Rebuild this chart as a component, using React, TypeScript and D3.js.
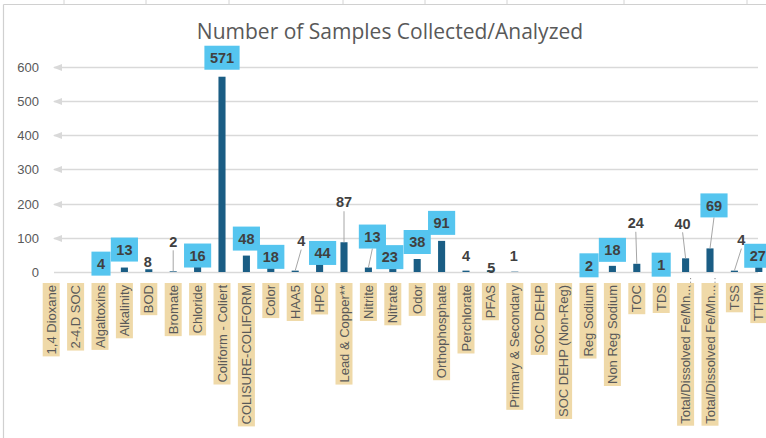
import React, { useEffect, useRef } from "react";
import * as d3 from "d3";

const title = "Number of Samples Collected/Analyzed";

const categories = [
  "1,4 Dioxane", "2-4,D SOC", "Algaltoxins", "Alkalinity", "BOD", "Bromate", "Chloride",
  "Coliform - Coliert", "COLISURE-COLIFORM", "Color", "HAA5", "HPC", "Lead & Copper**",
  "Nitrite", "Nitrate", "Odor", "Orthophosphate", "Perchlorate", "PFAS", "Primary & Secondary",
  "SOC DEHP", "SOC DEHP (Non-Reg)", "Reg Sodium", "Non Reg Sodium", "TOC", "TDS",
  "Total/Dissolved Fe/Mn...", "Total/Dissolved Fe/Mn...", "TSS", "TTHM",
];

const values: (number | null)[] = [
  null, null, 4, 13, 8, 2, 16, 571, 48, 18, 4, 44, 87, 13, 23, 38, 91, 4, 5, 1,
  null, null, 2, 18, 24, 1, 40, 69, 4, 27,
];

const yTicks = [0, 100, 200, 300, 400, 500, 600];

// label style: "box" = callout with fill, "plain" = text only
const labelStyle = [
  "", "", "box", "box", "plain", "plain", "box", "box", "box", "box", "plain", "box", "plain",
  "box", "box", "box", "box", "plain", "plain", "plain", "", "", "box", "box", "plain", "box",
  "plain", "box", "plain", "box",
];

// manual label placement offsets (dx, dy from bar top) and leader-line flags
const labelOffsets: [number, number][] = [
  [0, 0], [0, 0], [1, -7], [0, -18], [-1, -7], [0, -30], [0, -11], [0, -19], [0, -17], [0, -9],
  [6, -30], [3, -4], [0, -40], [4, -31], [-3, -7], [0, -17], [0, -18], [0, -15], [1, -3], [-1, -16],
  [0, 0], [0, 0], [1, -6], [0, -16], [-1, -41], [0, -7], [-3, -35], [4, -43], [7, -31], [-1, -7],
];
const leaders = [5, 10, 12, 13, 24, 26, 27, 28];

const W = 766;
const H = 438;

export default function App() {
  const ref = useRef<SVGSVGElement>(null);

  useEffect(() => {
    const svg = d3.select(ref.current);
    svg.selectAll("*").remove();

    const x = d3.scaleBand<string>()
      .domain(categories.map((c, i) => String(i)))
      .range([39, 771])
      .paddingInner(0.71)
      .paddingOuter(0.355);
    const y = d3.scaleLinear().domain([0, 600]).range([272, 66.8]);
    const cx = (i: number) => (x(String(i)) as number) + x.bandwidth() / 2;

    // frame / sheet background
    svg.append("rect").attr("x", 0).attr("y", 0).attr("width", W).attr("height", H).attr("fill", "#ffffff");
    [64, 146, 229, 343, 425, 507, 624, 747].forEach((sx) => {
      svg.append("line").attr("x1", sx).attr("x2", sx).attr("y1", 0).attr("y2", 4)
        .attr("stroke", "#d4d4d4").attr("stroke-width", 1);
    });
    svg.append("line").attr("x1", 3.5).attr("x2", W).attr("y1", 4.5).attr("y2", 4.5)
      .attr("stroke", "#d0d0d0").attr("stroke-width", 1.2);
    svg.append("line").attr("x1", 3.5).attr("x2", 3.5).attr("y1", 4.5).attr("y2", H)
      .attr("stroke", "#d0d0d0").attr("stroke-width", 1.2);

    // title
    svg.append("text").attr("x", 390).attr("y", 39).attr("text-anchor", "middle")
      .attr("font-family", "'Open Sans', sans-serif").attr("font-size", 21)
      .attr("fill", "#595959").text(title);

    // gridlines
    yTicks.forEach((t) => {
      const yy = Math.round(y(t)) + 0.5;
      svg.append("line").attr("x1", 54).attr("x2", 758).attr("y1", yy).attr("y2", yy)
        .attr("stroke", "#d9d9d9").attr("stroke-width", 1.3);
      if (t > 0) {
        svg.append("path")
          .attr("d", `M53,${yy} L62,${yy - 3.5} L62,${yy + 3.5} Z`)
          .attr("fill", "#d9d9d9");
      }
      svg.append("text").attr("x", 39).attr("y", yy).attr("dy", "0.35em")
        .attr("text-anchor", "end").attr("font-family", "'Liberation Sans', Arial, sans-serif")
        .attr("font-size", 13).attr("fill", "#595959").text(String(t));
    });

    // bars
    values.forEach((v, i) => {
      if (v == null) return;
      svg.append("rect").attr("x", x(String(i)) as number).attr("y", y(v))
        .attr("width", x.bandwidth()).attr("height", y(0) - y(v)).attr("fill", "#1a5d84");
    });

    // category labels (rotated, tan background)
    categories.forEach((c, i) => {
      const g = svg.append("g").attr("transform", `translate(${cx(i)},283) rotate(-90)`);
      const rect = g.append("rect").attr("fill", "#efd9a8");
      const t = g.append("text").attr("x", -2).attr("y", 0).attr("dy", "0.36em")
        .attr("text-anchor", "end").attr("font-family", "'Liberation Sans', Arial, sans-serif")
        .attr("font-size", 13).attr("fill", "#595959").text(c);
      const len = (t.node() as SVGTextElement).getComputedTextLength();
      rect.attr("x", -len - 4).attr("y", -8.5).attr("width", len + 4).attr("height", 17);
    });

    // dotted marks below the truncated labels
    [26, 27].forEach((i) => {
      svg.append("line").attr("x1", cx(i) + 5).attr("x2", cx(i) + 5).attr("y1", 278).attr("y2", 289)
        .attr("stroke", "#8c8c8c").attr("stroke-width", 1).attr("stroke-dasharray", "1.2,2.5");
    });

    // leader lines
    leaders.forEach((i) => {
      const v = values[i] as number;
      const [dx, dy] = labelOffsets[i];
      const lx = cx(i) + dx;
      const ly = y(v) + dy;
      svg.append("line").attr("x1", lx).attr("y1", ly + (labelStyle[i] === "box" ? 12 : 9))
        .attr("x2", cx(i)).attr("y2", y(v)).attr("stroke", "#a6a6a6").attr("stroke-width", 1);
    });

    // data labels
    values.forEach((v, i) => {
      if (v == null) return;
      const [dx, dy] = labelOffsets[i];
      const lx = cx(i) + dx;
      const ly = y(v) + dy;
      const g = svg.append("g");
      const rect = g.append("rect");
      const t = g.append("text").attr("x", lx).attr("y", ly).attr("dy", "0.36em")
        .attr("text-anchor", "middle").attr("font-family", "'Liberation Sans', Arial, sans-serif")
        .attr("font-weight", "bold").attr("font-size", 14.5).attr("fill", "#404040").text(String(v));
      if (labelStyle[i] === "box") {
        const len = (t.node() as SVGTextElement).getComputedTextLength();
        const w = len + 11;
        rect.attr("x", lx - w / 2).attr("y", ly - 12).attr("width", w).attr("height", 24)
          .attr("fill", "#55c5ef");
      } else {
        rect.remove();
      }
    });
  }, []);

  return (
    <svg
      ref={ref}
      width={W}
      height={H}
      viewBox={`0 0 ${W} ${H}`}
      style={{ position: "fixed", left: 0, top: 0, display: "block" }}
    />
  );
}
